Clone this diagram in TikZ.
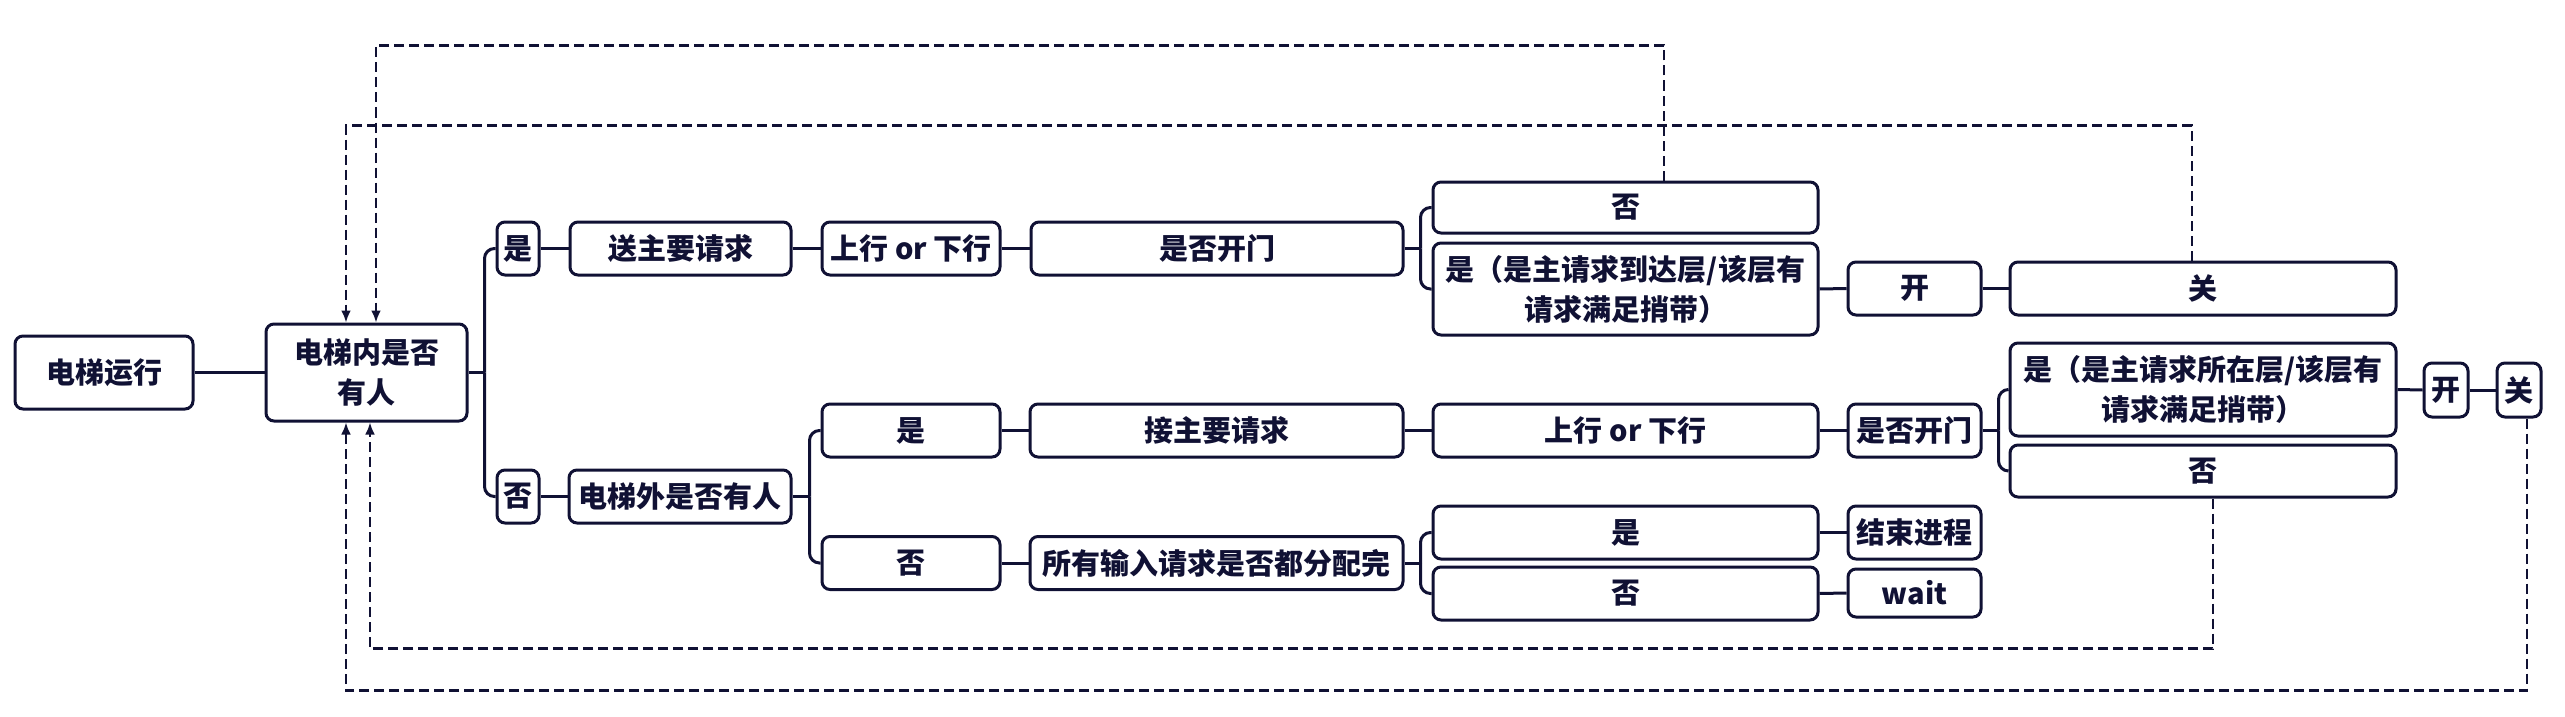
\documentclass[tikz,border=0pt]{standalone}
\usepackage{fontspec}
\newfontfamily\cjk{Noto Sans CJK SC}
\usepackage{tikz}
\usetikzlibrary{arrows.meta}

\definecolor{ink}{RGB}{16,17,52}

\tikzset{
  box/.style={draw=ink, line width=3pt, rounded corners=8pt, fill=white,
    text=ink, inner sep=0pt, align=center, minimum height=53pt,
    font=\cjk\bfseries\fontsize{29}{40}\selectfont},
  link/.style={draw=ink, line width=3pt},
  branch/.style={link, rounded corners=10pt},
  feedback/.style={draw=ink, line width=2.6pt, dash pattern=on 10pt off 5pt,
    -{Latex[length=12pt,width=10pt]}}
}

\begin{document}
\begin{tikzpicture}[x=1pt, y=-1pt]
    \useasboundingbox (0,0) rectangle (2565,717);

    % Start and first question
    \node[box, minimum width=178pt, minimum height=73pt] (run) at (104,372.5) {电梯运行};
    \node[box, minimum width=201pt, minimum height=97pt] (inside) at (366.5,372.5) {电梯内是否\\有人};

    % Someone inside the car
    \node[box, minimum width=42pt] (yes) at (518,248.5) {是};
    \node[box, minimum width=221pt] (send) at (680.5,248.5) {送主要请求};
    \node[box, minimum width=178pt] (updownA) at (911,248.5) {上行 or 下行};
    \node[box, minimum width=372pt] (doorA) at (1217,248.5) {是否开门};
    \node[box, minimum width=385pt, minimum height=51pt] (doorAno) at (1625.5,207.5) {否};
    \node[box, minimum width=385pt, minimum height=92pt] (doorAyes) at (1625.5,289) {是（是主请求到达层/该层有\\请求满足捎带）};
    \node[box, minimum width=133pt] (openA) at (1914.5,288.5) {开};
    \node[box, minimum width=386pt] (closeA) at (2203,288.5) {关};

    % Nobody inside the car
    \node[box, minimum width=42pt] (no) at (518,496.5) {否};
    \node[box, minimum width=222pt] (outside) at (680,496.5) {电梯外是否有人};

    % Someone waiting outside
    \node[box, minimum width=178pt] (callyes) at (911,430.5) {是};
    \node[box, minimum width=373pt] (fetch) at (1216.5,430.5) {接主要请求};
    \node[box, minimum width=385pt] (updownB) at (1625.5,430.5) {上行 or 下行};
    \node[box, minimum width=133pt] (doorB) at (1914.5,430.5) {是否开门};
    \node[box, minimum width=386pt, minimum height=93pt] (doorByes) at (2203,389.5) {是（是主请求所在层/该层有\\请求满足捎带）};
    \node[box, minimum width=386pt, minimum height=52pt] (doorBno) at (2203,471) {否};
    \node[box, minimum width=44pt, minimum height=54pt] (openB) at (2446,390) {开};
    \node[box, minimum width=44pt, minimum height=54pt] (closeB) at (2519,390) {关};

    % Nobody waiting outside
    \node[box, minimum width=178pt] (callno) at (911,563) {否};
    \node[box, minimum width=373pt] (alloc) at (1216.5,563) {所有输入请求是否都分配完};
    \node[box, minimum width=385pt] (allocyes) at (1625.5,532.5) {是};
    \node[box, minimum width=385pt] (allocno) at (1625.5,593.5) {否};
    \node[box, minimum width=133pt] (finish) at (1914.5,532.5) {结束进程};
    \node[box, minimum width=133pt, minimum height=48pt] (wait) at (1914.5,593) {wait};

    % Straight links
    \draw[link] (run) -- (inside);
    \draw[link] (yes) -- (send);
    \draw[link] (send) -- (updownA);
    \draw[link] (updownA) -- (doorA);
    \draw[link] (doorAyes.east) -- (openA.west);
    \draw[link] (openA) -- (closeA);
    \draw[link] (no) -- (outside);
    \draw[link] (callyes) -- (fetch);
    \draw[link] (fetch) -- (updownB);
    \draw[link] (updownB) -- (doorB);
    \draw[link] (doorByes.east) -- (openB.west);
    \draw[link] (openB) -- (closeB);
    \draw[link] (callno) -- (alloc);
    \draw[link] (allocyes) -- (finish);
    \draw[link] (allocno.east) -- (wait.west);

    % Branch brackets
    \draw[link] (inside.east) -- ++(16,0) coordinate (forkIn);
    \draw[branch] (forkIn) |- (yes.west);
    \draw[branch] (forkIn) |- (no.west);

    \draw[link] (doorA.east) -- ++(16,0) coordinate (forkDoorA);
    \draw[branch] (forkDoorA) |- (doorAno.west);
    \draw[branch] (forkDoorA) |- (doorAyes.west);

    \draw[link] (outside.east) -- ++(17,0) coordinate (forkOut);
    \draw[branch] (forkOut) |- (callyes.west);
    \draw[branch] (forkOut) |- (callno.west);

    \draw[link] (doorB.east) -- ++(16,0) coordinate (forkDoorB);
    \draw[branch] (forkDoorB) |- (doorByes.west);
    \draw[branch] (forkDoorB) |- (doorBno.west);

    \draw[link] (alloc.east) -- ++(16,0) coordinate (forkAlloc);
    \draw[branch] (forkAlloc) |- (allocyes.west);
    \draw[branch] (forkAlloc) |- (allocno.west);

    % Back to the first question
    \draw[feedback] ([xshift=38.5pt]doorAno.north) -- ++(0,-135) -| ([xshift=9.5pt]inside.north);
    \draw[feedback] ([xshift=-11pt]closeA.north) -- ++(0,-135) -| ([xshift=-20.5pt]inside.north);
    \draw[feedback] ([xshift=10pt]doorBno.south) -- ++(0,150) -| ([xshift=3.5pt]inside.south);
    \draw[feedback] ([xshift=8pt]closeB.south) -- ++(0,272) -| ([xshift=-20.5pt]inside.south);
\end{tikzpicture}
\end{document}
